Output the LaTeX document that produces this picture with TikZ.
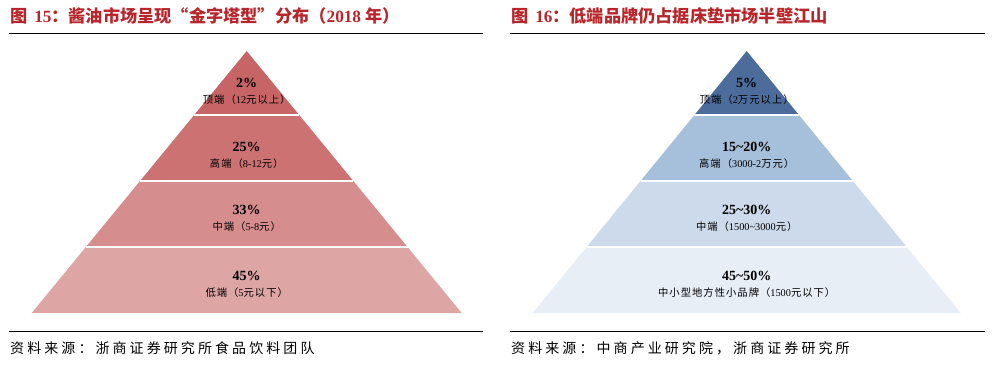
\documentclass[tikz,border=0pt]{standalone}
\usepackage{fontspec}
\setmainfont{Liberation Serif}
\newfontfamily\zh{Noto Sans CJK SC}
\newfontfamily\zhs[LetterSpace=10]{Noto Sans CJK SC}
\usetikzlibrary{calc}

\definecolor{titlered}{HTML}{B8262B}
\definecolor{redA}{HTML}{C66466}
\definecolor{redB}{HTML}{CD7273}
\definecolor{redC}{HTML}{D68D8D}
\definecolor{redD}{HTML}{DEA5A5}
\definecolor{blueA}{HTML}{4C6D9B}
\definecolor{blueB}{HTML}{A6BFDA}
\definecolor{blueC}{HTML}{CCDAEB}
\definecolor{blueD}{HTML}{E7EEF6}

\tikzset{
  figtitle/.style={anchor=west, inner sep=0pt, text=titlered,
    font=\zh\bfseries\fontsize{17.2}{17}\selectfont},
  srcnote/.style={anchor=west, inner sep=0pt,
    font=\zh\addfontfeatures{LetterSpace=22}\fontsize{14}{14}\selectfont},
  tier/.style={align=center, inner sep=0pt, font=\fontsize{10.3}{16}\selectfont},
  rule/.style={line width=0.9pt, black},
  gap/.style={white, line width=1.4pt}
}
\newcommand{\pct}[1]{{\bfseries\fontsize{14}{14}\selectfont #1}}

\begin{document}
\begin{tikzpicture}[x=1pt, y=-1pt]
  \useasboundingbox (0,0) rectangle (998,364);

  % ---- left: soy sauce ----
  \node[figtitle] (ttlL) at (10,16) {图\hspace{0.4em}{\rmfamily\bfseries 15}：酱油市场呈现“金字塔型”分布（{\rmfamily\bfseries 2018} 年）};
  \coordinate (rl1) at (9,33);
  \coordinate (rl2) at (483,33);
  \draw[rule] (rl1) -- (rl2);

  \coordinate (apexL) at (246.7,51);
  \coordinate (blL) at (31.7,313);
  \coordinate (brL) at (461.7,313);
  \coordinate (a1) at ($(apexL)!0.2443!(blL)$);
  \coordinate (b1) at ($(apexL)!0.2443!(brL)$);
  \coordinate (a2) at ($(apexL)!0.4962!(blL)$);
  \coordinate (b2) at ($(apexL)!0.4962!(brL)$);
  \coordinate (a3) at ($(apexL)!0.7481!(blL)$);
  \coordinate (b3) at ($(apexL)!0.7481!(brL)$);
  \fill[redA] (apexL) -- (a1) -- (b1) -- cycle;
  \fill[redB] (a1) -- (a2) -- (b2) -- (b1) -- cycle;
  \fill[redC] (a2) -- (a3) -- (b3) -- (b2) -- cycle;
  \fill[redD] (a3) -- (blL) -- (brL) -- (b3) -- cycle;
  \draw[gap] (a1) -- (b1);
  \draw[gap] (a2) -- (b2);
  \draw[gap] (a3) -- (b3);

  \node[tier] (topL) at (246.7,91) {\pct{2\%}\\{\zhs 顶端（}12{\zhs 元以上）}};
  \node[tier] (highL) at (246.7,155) {\pct{25\%}\\{\zhs 高端（}8-12{\zhs 元）}};
  \node[tier] (midL) at (246.7,218.5) {\pct{33\%}\\{\zhs 中端（}5-8{\zhs 元）}};
  \node[tier] (lowL) at (246.7,284.5) {\pct{45\%}\\{\zhs 低端（}5{\zhs 元以下）}};

  \coordinate (rl3) at (9,331);
  \coordinate (rl4) at (483,331);
  \draw[rule] (rl3) -- (rl4);
  \node[srcnote] (srcL) at (10,348) {资料来源：浙商证券研究所食品饮料团队};

  % ---- right: mattress ----
  \node[figtitle] (ttlR) at (511,16) {图\hspace{0.4em}{\rmfamily\bfseries 16}：低端品牌仍占据床垫市场半壁江山};
  \coordinate (rr1) at (510,33);
  \coordinate (rr2) at (985,33);
  \draw[rule] (rr1) -- (rr2);

  \coordinate (apexR) at (746.7,51);
  \coordinate (blR) at (532.7,313);
  \coordinate (brR) at (960.7,313);
  \coordinate (c1) at ($(apexR)!0.2443!(blR)$);
  \coordinate (d1) at ($(apexR)!0.2443!(brR)$);
  \coordinate (c2) at ($(apexR)!0.4962!(blR)$);
  \coordinate (d2) at ($(apexR)!0.4962!(brR)$);
  \coordinate (c3) at ($(apexR)!0.7481!(blR)$);
  \coordinate (d3) at ($(apexR)!0.7481!(brR)$);
  \fill[blueA] (apexR) -- (c1) -- (d1) -- cycle;
  \fill[blueB] (c1) -- (c2) -- (d2) -- (d1) -- cycle;
  \fill[blueC] (c2) -- (c3) -- (d3) -- (d2) -- cycle;
  \fill[blueD] (c3) -- (blR) -- (brR) -- (d3) -- cycle;
  \draw[gap] (c1) -- (d1);
  \draw[gap] (c2) -- (d2);
  \draw[gap] (c3) -- (d3);

  \node[tier] (topR) at (746.7,91) {\pct{5\%}\\{\zhs 顶端（}2{\zhs 万元以上）}};
  \node[tier] (highR) at (746.7,155) {\pct{15\textasciitilde20\%}\\{\zhs 高端（}3000-2{\zhs 万元）}};
  \node[tier] (midR) at (746.7,218.5) {\pct{25\textasciitilde30\%}\\{\zhs 中端（}1500\textasciitilde3000{\zhs 元）}};
  \node[tier] (lowR) at (746.7,284.5) {\pct{45\textasciitilde50\%}\\{\zhs 中小型地方性小品牌（}1500{\zhs 元以下）}};

  \coordinate (rr3) at (510,331);
  \coordinate (rr4) at (985,331);
  \draw[rule] (rr3) -- (rr4);
  \node[srcnote] (srcR) at (511,348) {资料来源：中商产业研究院，浙商证券研究所};
\end{tikzpicture}
\end{document}
